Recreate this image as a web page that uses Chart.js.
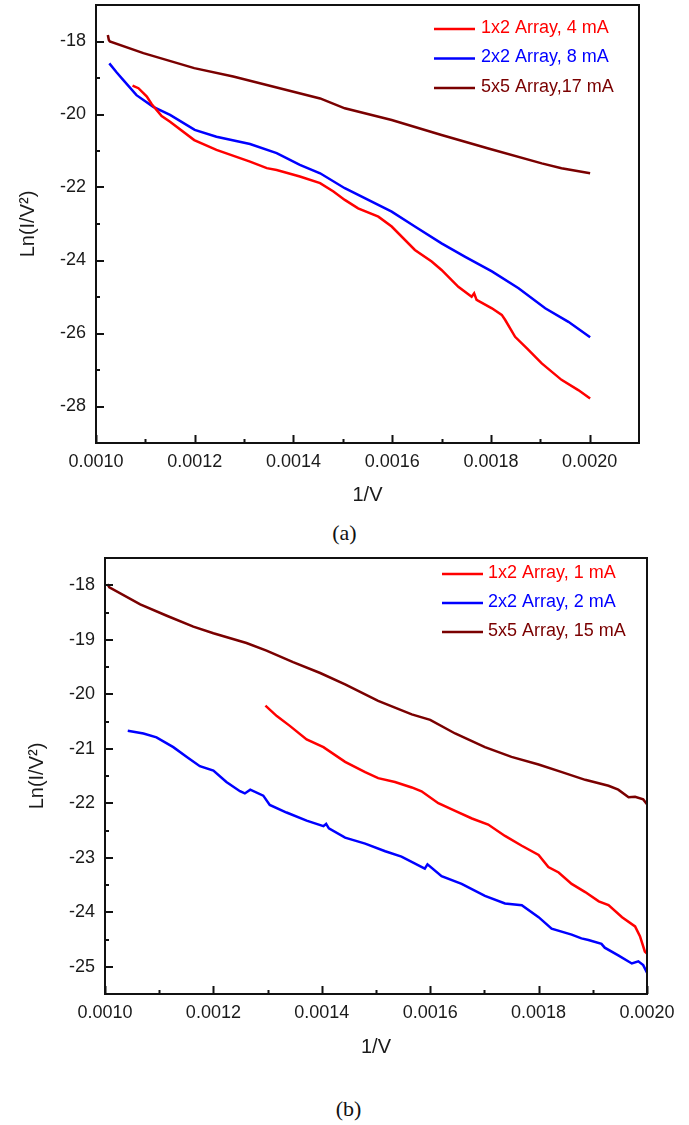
<!DOCTYPE html>
<html>
<head>
<meta charset="utf-8">
<script src="https://cdn.jsdelivr.net/npm/chart.js@4/dist/chart.umd.min.js"></script>
<style>
  html, body { margin: 0; background: #fff; }
  body { width: 689px; height: 1125px; position: relative; overflow: hidden; }
  canvas { position: absolute; left: 0; }
  .caption { position: absolute; left: 0; width: 689px; line-height: 26px; text-align: center;
             font: 22px 'Liberation Serif', 'Times New Roman', serif; color: #111; }
</style>
</head>
<body>
<canvas id="chart-a" width="689" height="520" style="top:0"></canvas>
<div class="caption" style="top:520px">(a)</div>
<canvas id="chart-b" width="689" height="530" style="top:540px"></canvas>
<div class="caption" style="top:1096px;left:4px">(b)</div>
<script>
/*  Two Fowler–Nordheim panels, Ln(I/V²) against 1/V.
 *  (a) and (b) share the same three arrays; only the currents differ.
 *  Ticks sit inside the frame (Origin style), so they are drawn by a small
 *  plugin from the scales instead of the built-in grid.
 */

const RED = '#ff0000'
const BLUE = '#0000ff'
const MAROON = '#7a0000'

// ---- panel (a)
const aLabels = ['1x2 Array, 4 mA', '2x2 Array, 8 mA', '5x5 Array,17 mA']

const a12X = [0.001074, 0.001086, 0.001103, 0.001113, 0.001123, 0.001133, 0.00115, 0.001199, 0.001244,
  0.001312, 0.001346, 0.001366, 0.001413, 0.001454, 0.001481, 0.001504, 0.001531, 0.001572,
  0.001599, 0.001646, 0.00168, 0.0017, 0.001734, 0.001761, 0.001766, 0.001771, 0.001802,
  0.001822, 0.001829, 0.001849, 0.001873, 0.001903, 0.001943, 0.001977, 0.002001]
const a12Y = [-19.21, -19.28, -19.51, -19.72, -19.88, -20.04, -20.2, -20.7, -20.97,
  -21.29, -21.47, -21.52, -21.7, -21.88, -22.11, -22.34, -22.57, -22.8,
  -23.07, -23.71, -24.03, -24.26, -24.72, -24.99, -24.9, -25.08, -25.31,
  -25.49, -25.63, -26.09, -26.41, -26.82, -27.27, -27.55, -27.78]

const a22X = [0.001027, 0.001042, 0.001055, 0.001082, 0.001116, 0.00115, 0.0012, 0.001244, 0.001312,
  0.001366, 0.001413, 0.001454, 0.001504, 0.001599, 0.001646, 0.0017, 0.001748, 0.001802,
  0.001856, 0.00191, 0.001957, 0.002001]
const a22Y = [-18.6, -18.85, -19.05, -19.47, -19.79, -20.01, -20.42, -20.61, -20.81,
  -21.06, -21.38, -21.61, -22.02, -22.66, -23.07, -23.53, -23.9, -24.3,
  -24.76, -25.31, -25.68, -26.1]

const a55X = [0.001024, 0.001026, 0.001028, 0.001096, 0.001199, 0.001278, 0.001366, 0.001454,
  0.001504, 0.001599, 0.0017, 0.001795, 0.001903, 0.001943, 0.002001]
const a55Y = [-17.82, -17.96, -18.0, -18.32, -18.73, -18.96, -19.26, -19.56,
  -19.83, -20.15, -20.56, -20.93, -21.34, -21.47, -21.61]

const aXTicks = [0.0010, 0.0012, 0.0014, 0.0016, 0.0018, 0.0020]
const aXMinor = [0.0011, 0.0013, 0.0015, 0.0017, 0.0019]
const aYTicks = [-28, -26, -24, -22, -20, -18]
const aYMinor = [-29, -27, -25, -23, -21, -19, -17]

// ---- panel (b)
const bLabels = ['1x2 Array, 1 mA', '2x2 Array, 2 mA', '5x5 Array, 15 mA']

const b12X = [0.001296, 0.001317, 0.001341, 0.001372, 0.001403, 0.001443, 0.00148, 0.001504, 0.001535,
  0.001566, 0.001584, 0.001615, 0.001646, 0.001677, 0.001707, 0.001738, 0.001769, 0.0018,
  0.001818, 0.001837, 0.001861, 0.001886, 0.001911, 0.001929, 0.001954, 0.001978, 0.001987,
  0.001996, 0.002]
const b12Y = [-20.21, -20.4, -20.58, -20.83, -20.97, -21.24, -21.43, -21.54, -21.61,
  -21.71, -21.78, -22.0, -22.14, -22.28, -22.39, -22.6, -22.78, -22.95,
  -23.17, -23.27, -23.48, -23.63, -23.8, -23.87, -24.09, -24.26, -24.44,
  -24.72, -24.76]

const b22X = [0.001042, 0.001071, 0.001095, 0.001126, 0.001151, 0.001175, 0.0012, 0.001224, 0.001249,
  0.001258, 0.001268, 0.001292, 0.001304, 0.001335, 0.001372, 0.001403, 0.001408, 0.001413,
  0.001443, 0.00148, 0.001517, 0.001547, 0.00159, 0.001595, 0.001621, 0.001658, 0.001701,
  0.001738, 0.001769, 0.0018, 0.001824, 0.001861, 0.001879, 0.001892, 0.001916, 0.001922,
  0.001947, 0.001972, 0.001984, 0.001993, 0.002]
const b22Y = [-20.67, -20.72, -20.79, -20.97, -21.15, -21.32, -21.4, -21.61, -21.78,
  -21.82, -21.75, -21.86, -22.03, -22.17, -22.32, -22.42, -22.38, -22.46,
  -22.63, -22.74, -22.88, -22.98, -23.2, -23.12, -23.34, -23.48, -23.7,
  -23.84, -23.87, -24.09, -24.3, -24.41, -24.48, -24.51, -24.58, -24.65,
  -24.79, -24.94, -24.9, -24.97, -25.11]

const b55X = [0.0010043, 0.001008, 0.001065, 0.001114, 0.001163, 0.0012, 0.001261, 0.001298, 0.001347,
  0.001397, 0.001443, 0.001504, 0.001566, 0.0016, 0.001646, 0.001701, 0.00175, 0.0018,
  0.001843, 0.001886, 0.001929, 0.001947, 0.001966, 0.001978, 0.001993, 0.002]
const b55Y = [-17.98, -18.04, -18.35, -18.56, -18.76, -18.88, -19.06, -19.2, -19.41,
  -19.61, -19.82, -20.12, -20.37, -20.47, -20.72, -20.97, -21.15, -21.29,
  -21.43, -21.57, -21.68, -21.75, -21.89, -21.88, -21.93, -22.02]

const bXTicks = [0.0010, 0.0012, 0.0014, 0.0016, 0.0018, 0.0020]
const bXMinor = [0.0011, 0.0013, 0.0015, 0.0017, 0.0019]
const bYTicks = [-25, -24, -23, -22, -21, -20, -19, -18]
const bYMinor = [-25.5, -24.5, -23.5, -22.5, -21.5, -20.5, -19.5, -18.5, -17.5]

Chart.defaults.font.family = "'Liberation Sans', Arial, sans-serif"
Chart.defaults.color = '#1a1a1a'

// frame + inward ticks, bottom and left only
const frame = {
  id: 'frame',
  afterDatasetsDraw(chart, args, o) {
    const { ctx, chartArea: a, scales: { x, y } } = chart
    ctx.save()
    ctx.strokeStyle = '#111'
    ctx.lineWidth = 2
    ctx.beginPath()
    const tx = (v, len) => { const p = Math.round(x.getPixelForValue(v)) + 0.5; ctx.moveTo(p, a.bottom); ctx.lineTo(p, a.bottom - len) }
    const ty = (v, len) => { const p = Math.round(y.getPixelForValue(v)); ctx.moveTo(a.left, p); ctx.lineTo(a.left + len, p) }
    x.ticks.forEach(t => tx(t.value, 8))
    o.xMinor.forEach(v => tx(v, 4))
    y.ticks.forEach(t => ty(t.value, 8))
    o.yMinor.forEach(v => ty(v, 4))
    ctx.stroke()
    ctx.strokeRect(a.left, a.top, a.right - a.left, a.bottom - a.top)
    ctx.restore()
  },
}

// legend drawn inside the plot, text in series colour
const inlineLegend = {
  id: 'inlineLegend',
  afterDraw(chart, args, o) {
    const { ctx } = chart
    ctx.save()
    ctx.font = "18px 'Liberation Sans', Arial, sans-serif"
    ctx.textBaseline = 'middle'
    chart.data.datasets.forEach((ds, i) => {
      const yy = o.top + i * o.gap
      ctx.strokeStyle = ds.borderColor
      ctx.lineWidth = 2.5
      ctx.beginPath()
      ctx.moveTo(o.left, yy + 1)
      ctx.lineTo(o.left + o.line, yy + 1)
      ctx.stroke()
      ctx.fillStyle = ds.borderColor
      ctx.fillText(ds.label, o.left + o.line + o.textGap, yy)
    })
    ctx.restore()
  },
}

function series(label, xs, ys, color) {
  return {
    label, data: xs.map((x, i) => ({ x, y: ys[i] })),
    showLine: true, borderColor: color, backgroundColor: color,
    borderWidth: 2.5, pointRadius: 0, tension: 0,
  }
}

function panel(id, datasets, p) {
  const title = (text, pad) => ({ display: true, text, font: { size: 20 }, padding: pad })
  // the frame is exact, so drop the label overhang chart.js reserves
  const noOverhang = s => { s.paddingTop = s.paddingBottom = s.paddingLeft = s.paddingRight = 0 }
  return new Chart(document.getElementById(id), {
    type: 'scatter',
    data: { datasets },
    options: {
      responsive: false, animation: false, events: [],
      layout: { padding: { top: p.top, right: p.right, left: 0, bottom: 0 } },
      plugins: {
        legend: { display: false }, tooltip: { enabled: false },
        frame: { xMinor: p.xMinor, yMinor: p.yMinor },
        inlineLegend: p.legend,
      },
      scales: {
        x: {
          type: 'linear', min: p.xMin, max: p.xMax,
          grid: { display: false, drawTicks: false }, border: { display: false },
          afterBuildTicks: s => { s.ticks = p.xTicks.map(value => ({ value })) },
          afterFit: s => { s.height = p.xAxisH; noOverhang(s) },
          ticks: { padding: 8, autoSkip: false, maxRotation: 0, font: { size: 18 }, callback: v => v.toFixed(4) },
          title: title('1/V', { top: 0, bottom: p.xTitlePad }),
        },
        y: {
          min: p.yMin, max: p.yMax,
          grid: { display: false, drawTicks: false }, border: { display: false },
          afterBuildTicks: s => { s.ticks = p.yTicks.map(value => ({ value })) },
          afterFit: s => { s.width = p.yAxisW; noOverhang(s) },
          ticks: { padding: 10, autoSkip: false, font: { size: 18 }, callback: v => String(v) },
          title: title('Ln(I/V²)', { top: p.yTitlePad, bottom: 0 }),
        },
      },
    },
    plugins: [frame, inlineLegend],
  })
}

panel('chart-a', [
  series(aLabels[0], a12X, a12Y, RED),
  series(aLabels[1], a22X, a22Y, BLUE),
  series(aLabels[2], a55X, a55Y, MAROON),
], {
  top: 5, right: 50, xAxisH: 77, yAxisW: 96, xTitlePad: 13, yTitlePad: 16,
  xMin: 0.0010, xMax: 0.0021, yMin: -29, yMax: -17,
  xTicks: aXTicks, xMinor: aXMinor, yTicks: aYTicks, yMinor: aYMinor,
  legend: { left: 434, top: 28, gap: 29.5, line: 41, textGap: 6 },
})

panel('chart-b', [
  series(bLabels[0], b12X, b12Y, RED),
  series(bLabels[1], b22X, b22Y, BLUE),
  series(bLabels[2], b55X, b55Y, MAROON),
], {
  top: 18, right: 42, xAxisH: 76, yAxisW: 105, xTitlePad: 11, yTitlePad: 25,
  xMin: 0.0010, xMax: 0.0020, yMin: -25.5, yMax: -17.5,
  xTicks: bXTicks, xMinor: bXMinor, yTicks: bYTicks, yMinor: bYMinor,
  legend: { left: 442, top: 33, gap: 29, line: 41, textGap: 5 },
})
</script>
</body>
</html>
